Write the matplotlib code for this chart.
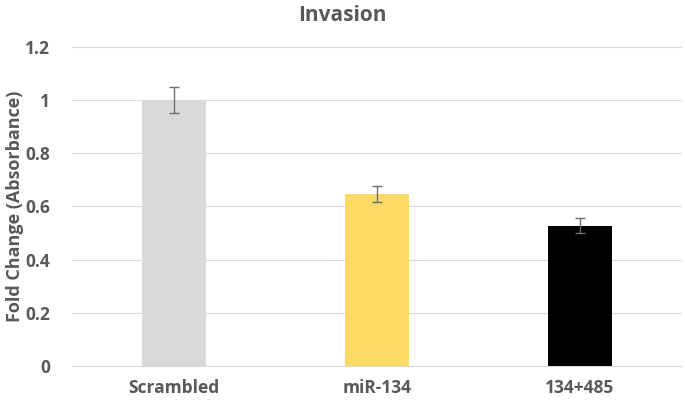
import matplotlib
matplotlib.use('Agg')
import matplotlib.pyplot as plt

# Data
groups = ['Scrambled', 'miR-134', '134+485']
fold_change = [1.0, 0.647, 0.528]
errors = [0.05, 0.03, 0.028]
bar_colors = ['#D9D9D9', '#FFD966', '#000000']
y_ticks = [0, 0.2, 0.4, 0.6, 0.8, 1.0, 1.2]
y_tick_labels = ['0', '0.2', '0.4', '0.6', '0.8', '1', '1.2']

plt.rcParams['font.family'] = ['Open Sans', 'DejaVu Sans']
text_gray = '#595959'

fig = plt.figure(figsize=(6.85, 4.03), dpi=100)
ax = fig.add_axes([0.1058, 0.0918, 0.8892, 0.7916])

x = range(len(groups))
ax.bar(x, fold_change, width=0.315, color=bar_colors, zorder=3,
       yerr=errors, error_kw=dict(ecolor='#6F6F6F', elinewidth=1, capsize=3.5, capthick=1))

ax.set_xlim(-0.5, len(groups) - 0.5)
ax.set_ylim(0, 1.2)
ax.set_yticks(y_ticks)
ax.set_yticklabels(y_tick_labels)
ax.set_xticks(list(x))
ax.set_xticklabels(groups)

ax.grid(axis='y', color='#D9D9D9', linewidth=0.8, zorder=0)
for side in ['top', 'right', 'left']:
    ax.spines[side].set_visible(False)
ax.spines['bottom'].set_color('#D9D9D9')
ax.tick_params(axis='both', length=0, colors=text_gray, labelsize=12.5)
ax.tick_params(axis='y', pad=16)
ax.tick_params(axis='x', pad=9)
for lbl in ax.get_xticklabels() + ax.get_yticklabels():
    lbl.set_fontweight('bold')

# y label placed directly in figure space so it stays inside the canvas
fig.text(15 / 685, 0.4876, 'Fold Change (Absorbance)', rotation=90, ha='center', va='center',
         fontsize=13, fontweight='bold', color=text_gray)
fig.text(0.5, 0.962, 'Invasion', ha='center', va='center', fontsize=15,
         fontweight='bold', color=text_gray)

fig.savefig('out.png', dpi=100)
